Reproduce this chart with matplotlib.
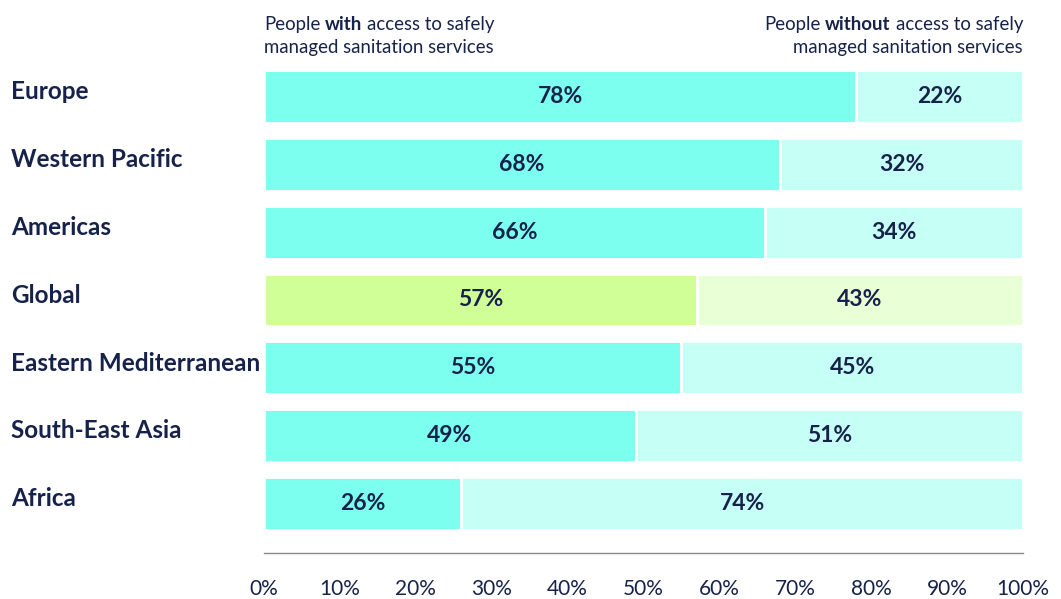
import matplotlib.pyplot as plt
import numpy as np

# regions, top to bottom
regions = ["Europe", "Western Pacific", "Americas", "Global",
           "Eastern Mediterranean", "South-East Asia", "Africa"]
with_access = [78, 68, 66, 57, 55, 49, 26]
without_access = [22, 32, 34, 43, 45, 51, 74]
tick_values = [0, 10, 20, 30, 40, 50, 60, 70, 80, 90, 100]

NAVY = "#17224a"
CYAN = "#7dfff0"
CYAN_LIGHT = "#c6fff6"
GREEN = "#cfff96"
GREEN_LIGHT = "#e9ffd6"

plt.rcParams["font.family"] = ["Lato", "DejaVu Sans"]

fig = plt.figure(figsize=(10.61, 5.99), dpi=100)
ax = fig.add_axes([264 / 1061, 46 / 599, (1023 - 264) / 1061, (553 - 70) / 599])

y = np.arange(len(regions))
c1 = [GREEN if r == "Global" else CYAN for r in regions]
c2 = [GREEN_LIGHT if r == "Global" else CYAN_LIGHT for r in regions]

ax.barh(y, with_access, height=0.78, color=c1, edgecolor="white", linewidth=2)
ax.barh(y, without_access, left=with_access, height=0.78, color=c2,
        edgecolor="white", linewidth=2)

for i, (a, b) in enumerate(zip(with_access, without_access)):
    ax.text(a / 2, i, f"{a}%", ha="center", va="center", fontsize=16.5,
            fontweight="bold", color=NAVY)
    ax.text(a + b / 2, i, f"{b}%", ha="center", va="center", fontsize=16.5,
            fontweight="bold", color=NAVY)

ax.set_xlim(0, 100)
ax.set_ylim(len(regions) - 1 + 0.73, -0.39)
ax.set_xticks(tick_values)
ax.set_xticklabels([f"{v}%" for v in tick_values], fontsize=15, color=NAVY)
ax.tick_params(axis="x", length=0, pad=19)
ax.set_yticks([])
for s in ["top", "right", "left"]:
    ax.spines[s].set_visible(False)
ax.spines["bottom"].set_color("#8a8a8a")
ax.spines["bottom"].set_linewidth(1)

# region labels on the left
for i, r in enumerate(regions):
    ax.annotate(r, xy=(11 / 1061, i - 0.07), xycoords=("figure fraction", "data"),
                ha="left", va="center", fontsize=17.5, fontweight="bold", color=NAVY)

# headers with bold keywords
hs = 13.4
t1 = fig.text(264 / 1061, 1 - 16 / 599, "People", ha="left", va="top",
              fontsize=hs, color=NAVY)
t2 = ax.annotate("with", xy=(1, 0), xycoords=t1, xytext=(3.5, 0),
                 textcoords="offset points", ha="left", va="bottom",
                 fontsize=hs, fontweight="bold", color=NAVY)
ax.annotate("access to safely", xy=(1, 0), xycoords=t2, xytext=(3.5, 0),
            textcoords="offset points", ha="left", va="bottom",
            fontsize=hs, color=NAVY)
fig.text(264 / 1061, 1 - 39 / 599, "managed sanitation services", ha="left",
         va="top", fontsize=hs, color=NAVY)

r3 = fig.text(1023 / 1061, 1 - 16 / 599, "access to safely", ha="right",
              va="top", fontsize=hs, color=NAVY)
r2 = ax.annotate("without", xy=(0, 0), xycoords=r3, xytext=(-3.5, 0),
                 textcoords="offset points", ha="right", va="bottom",
                 fontsize=hs, fontweight="bold", color=NAVY)
ax.annotate("People", xy=(0, 0), xycoords=r2, xytext=(-3.5, 0),
            textcoords="offset points", ha="right", va="bottom",
            fontsize=hs, color=NAVY)
fig.text(1023 / 1061, 1 - 39 / 599, "managed sanitation services", ha="right",
         va="top", fontsize=hs, color=NAVY)

fig.savefig("out.png", dpi=100)
